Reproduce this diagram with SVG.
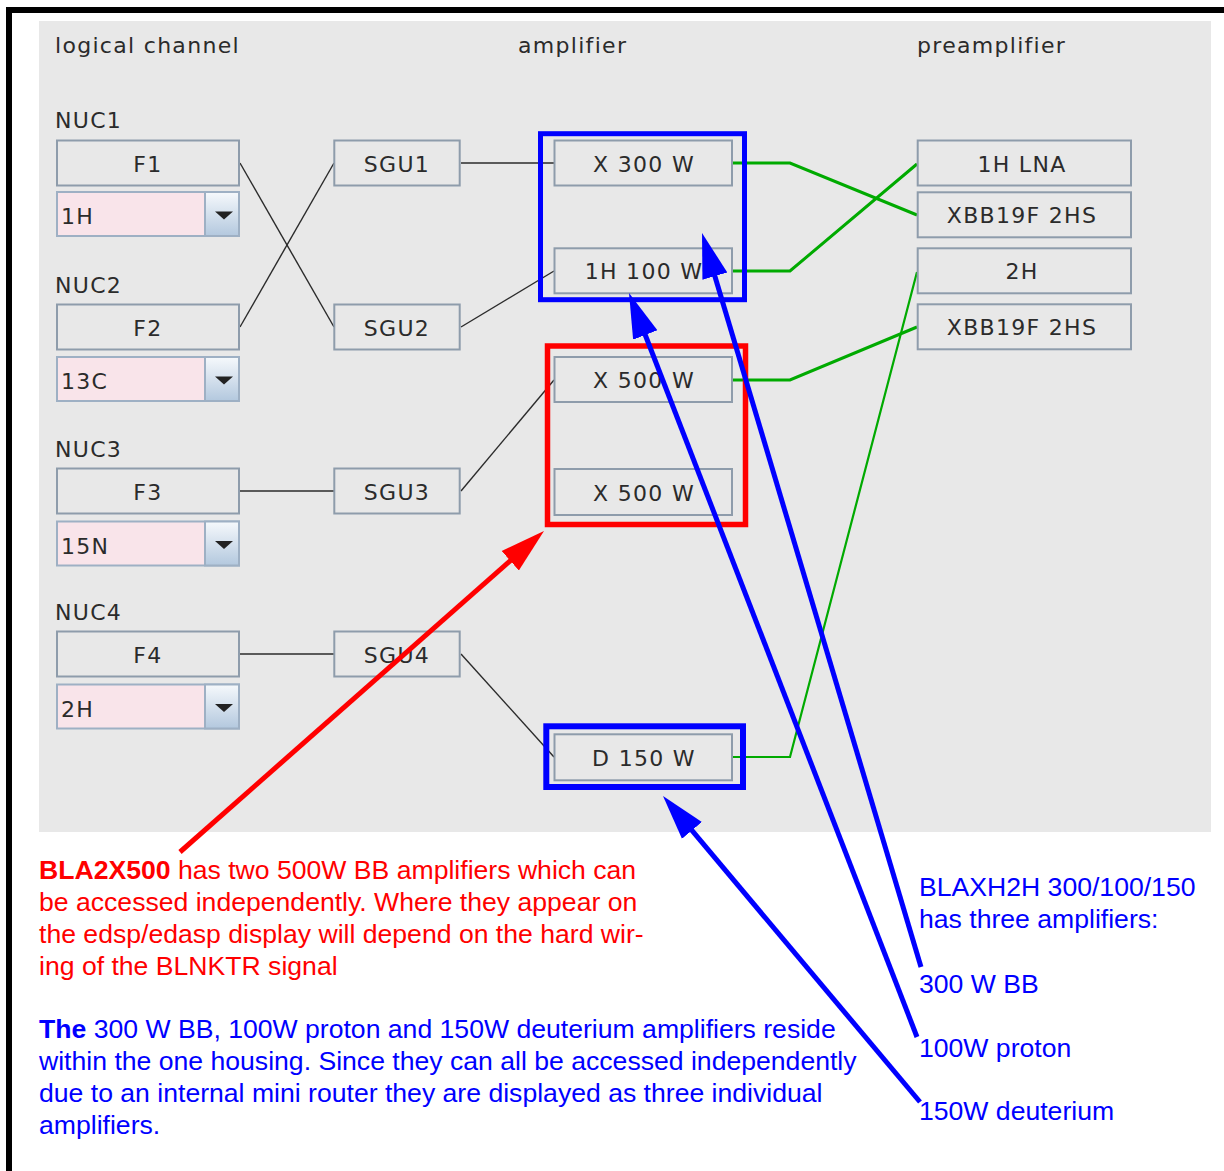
<svg xmlns="http://www.w3.org/2000/svg" width="1224" height="1171" viewBox="0 0 1224 1171">
<defs>
<style>
.frame{fill:#ffffff;stroke:#000000;stroke-width:6}
.panel{fill:#e8e8e8}
.box{fill:#e8e8e8;stroke:#8e9cab;stroke-width:2}
.combo{fill:#f9e4ea;stroke:#9eb0c4;stroke-width:2}
.btn{fill:url(#btn);stroke:#9eb0c4;stroke-width:2}
.tri{fill:#222222}
.lbl{font-family:'DejaVu Sans',sans-serif;font-size:22px;letter-spacing:1.3px;fill:#2b2b2b}
.c{text-anchor:middle}
.wire{stroke:#2b2b2b;stroke-width:1.4;fill:none}
.gw{stroke:#00aa00;stroke-width:3;fill:none}
.hb{fill:none;stroke:#0000ff}
.hr{fill:none;stroke:#ff0000}
.ab{stroke:#0000ff;stroke-width:5;fill:none}
.ar{stroke:#ff0000;stroke-width:5;fill:none}
.ann{font-family:'Liberation Sans',Arial,sans-serif;font-size:26.6px}
.red{fill:#ff0000}
.blue{fill:#0000ff}
.b{font-weight:bold}
</style>
<linearGradient id="btn" x1="0" y1="0" x2="0" y2="1">
<stop offset="0" stop-color="#f6f9fc"/>
<stop offset="1" stop-color="#b3c8de"/>
</linearGradient>
<marker id="mb" markerUnits="userSpaceOnUse" markerWidth="46" markerHeight="28" viewBox="0 -14 46 28" refX="1" refY="0" orient="auto">
<path d="M0,-13 L45,0 L0,13 Z" fill="#0000ff"/>
</marker>
<marker id="mr" markerUnits="userSpaceOnUse" markerWidth="46" markerHeight="28" viewBox="0 -14 46 28" refX="1" refY="0" orient="auto">
<path d="M0,-13 L45,0 L0,13 Z" fill="#ff0000"/>
</marker>
</defs>

<rect class="frame" x="9" y="10" width="1240" height="1200"/>
<rect class="panel" x="39" y="21" width="1172" height="811"/>

<g id="headers">
<text class="lbl" x="55" y="53">logical channel</text>
<text class="lbl" x="518" y="53">amplifier</text>
<text class="lbl" x="917" y="53">preamplifier</text>
</g>

<g id="connectors">
<path class="wire" d="M240,163 L334,327"/>
<path class="wire" d="M240,327 L334,163"/>
<path class="wire" d="M240,491 L334,491"/>
<path class="wire" d="M240,654 L334,654"/>
<path class="wire" d="M461,163 L554,163"/>
<path class="wire" d="M461,327 L554,271"/>
<path class="wire" d="M461,491 L554,380"/>
<path class="wire" d="M461,654 L554,757"/>
<path class="gw" d="M733,163 L790,163 L917,215"/>
<path class="gw" d="M733,271 L790,271 L917,164"/>
<path class="gw" d="M733,380 L790,380 L917,327"/>
<path class="gw" style="stroke-width:2.2" d="M733,757 L790,757 L917,272"/>
</g>

<g id="nuc1">
<text class="lbl" x="55" y="128">NUC1</text>
<rect class="box" x="57" y="140.5" width="182" height="45"/>
<text class="lbl c" x="148" y="171.5">F1</text>
<rect class="combo" x="57" y="192" width="182" height="44"/>
<rect class="btn" x="205" y="192" width="34" height="44"/>
<path class="tri" d="M215,211.5 h18 l-9,8 z"/>
<text class="lbl" x="61" y="224">1H</text>
</g>

<g id="nuc2">
<text class="lbl" x="55" y="293">NUC2</text>
<rect class="box" x="57" y="304.5" width="182" height="45"/>
<text class="lbl c" x="148" y="335.5">F2</text>
<rect class="combo" x="57" y="357" width="182" height="44"/>
<rect class="btn" x="205" y="357" width="34" height="44"/>
<path class="tri" d="M215,376.5 h18 l-9,8 z"/>
<text class="lbl" x="61" y="389">13C</text>
</g>

<g id="nuc3">
<text class="lbl" x="55" y="457">NUC3</text>
<rect class="box" x="57" y="468.5" width="182" height="45"/>
<text class="lbl c" x="148" y="499.5">F3</text>
<rect class="combo" x="57" y="521.5" width="182" height="44"/>
<rect class="btn" x="205" y="521.5" width="34" height="44"/>
<path class="tri" d="M215,541 h18 l-9,8 z"/>
<text class="lbl" x="61" y="553.5">15N</text>
</g>

<g id="nuc4">
<text class="lbl" x="55" y="620">NUC4</text>
<rect class="box" x="57" y="631.5" width="182" height="45"/>
<text class="lbl c" x="148" y="662.5">F4</text>
<rect class="combo" x="57" y="684.5" width="182" height="44"/>
<rect class="btn" x="205" y="684.5" width="34" height="44"/>
<path class="tri" d="M215,704 h18 l-9,8 z"/>
<text class="lbl" x="61" y="716.5">2H</text>
</g>

<g id="sgu1"><rect class="box" x="334.3" y="140.5" width="125.4" height="45"/><text class="lbl c" x="397" y="171.5">SGU1</text></g>
<g id="sgu2"><rect class="box" x="334.3" y="304.5" width="125.4" height="45"/><text class="lbl c" x="397" y="335.5">SGU2</text></g>
<g id="sgu3"><rect class="box" x="334.3" y="468.5" width="125.4" height="45"/><text class="lbl c" x="397" y="499.5">SGU3</text></g>
<g id="sgu4"><rect class="box" x="334.3" y="631.5" width="125.4" height="45"/><text class="lbl c" x="397" y="662.5">SGU4</text></g>

<g id="amp-x300"><rect class="box" x="554.5" y="140.5" width="177.5" height="45"/><text class="lbl c" x="644" y="171.5">X 300 W</text></g>
<g id="amp-1h100"><rect class="box" x="554.5" y="248.3" width="177.5" height="45"/><text class="lbl c" x="644" y="279.3">1H 100 W</text></g>
<g id="amp-x500a"><rect class="box" x="554.5" y="357" width="177.5" height="45"/><text class="lbl c" x="644" y="388">X 500 W</text></g>
<g id="amp-x500b"><rect class="box" x="554.5" y="469" width="177.5" height="46"/><text class="lbl c" x="644" y="500.5">X 500 W</text></g>
<g id="amp-d150"><rect class="box" x="554.5" y="734.3" width="177.5" height="46"/><text class="lbl c" x="644" y="765.5">D 150 W</text></g>

<g id="pre-1hlna"><rect class="box" x="917.7" y="140.5" width="213.3" height="45"/><text class="lbl c" x="1022" y="171.5">1H LNA</text></g>
<g id="pre-xbb1"><rect class="box" x="917.7" y="192.3" width="213.3" height="45"/><text class="lbl c" x="1022" y="223.3">XBB19F 2HS</text></g>
<g id="pre-2h"><rect class="box" x="917.7" y="248.3" width="213.3" height="45"/><text class="lbl c" x="1022" y="279.3">2H</text></g>
<g id="pre-xbb2"><rect class="box" x="917.7" y="304.3" width="213.3" height="45"/><text class="lbl c" x="1022" y="335.3">XBB19F 2HS</text></g>

<g id="highlights">
<rect class="hb" x="540.5" y="133.7" width="204" height="166" stroke-width="5"/>
<rect class="hr" x="547.5" y="346" width="198" height="178.5" stroke-width="5.5"/>
<rect class="hb" x="546.3" y="726.3" width="196.7" height="60.7" stroke-width="6"/>
</g>

<g id="arrows">
<path class="ar" d="M180,852 L511,560.1" marker-end="url(#mr)"/>
<path class="ab" d="M921,967 L714.6,275.2" marker-end="url(#mb)"/>
<path class="ab" d="M917,1037 L644.9,334" marker-end="url(#mb)"/>
<path class="ab" d="M920,1102 L691.3,829.7" marker-end="url(#mb)"/>
</g>

<g id="note-red" class="ann red">
<text x="39" y="879"><tspan class="b">BLA2X500</tspan> has two 500W BB amplifiers which can</text>
<text x="39" y="911">be accessed independently. Where they appear on</text>
<text x="39" y="943">the edsp/edasp display will depend on the hard wir-</text>
<text x="39" y="975">ing of the BLNKTR signal</text>
</g>

<g id="note-blue" class="ann blue">
<text x="39" y="1038"><tspan class="b">The</tspan> 300 W BB, 100W proton and 150W deuterium amplifiers reside</text>
<text x="39" y="1070">within the one housing. Since they can all be accessed independently</text>
<text x="39" y="1102">due to an internal mini router they are displayed as three individual</text>
<text x="39" y="1134">amplifiers.</text>
</g>

<g id="note-right" class="ann blue">
<text x="919" y="896">BLAXH2H 300/100/150</text>
<text x="919" y="928">has three amplifiers:</text>
<text x="919" y="993">300 W BB</text>
<text x="919" y="1057">100W proton</text>
<text x="919" y="1120">150W deuterium</text>
</g>
</svg>
